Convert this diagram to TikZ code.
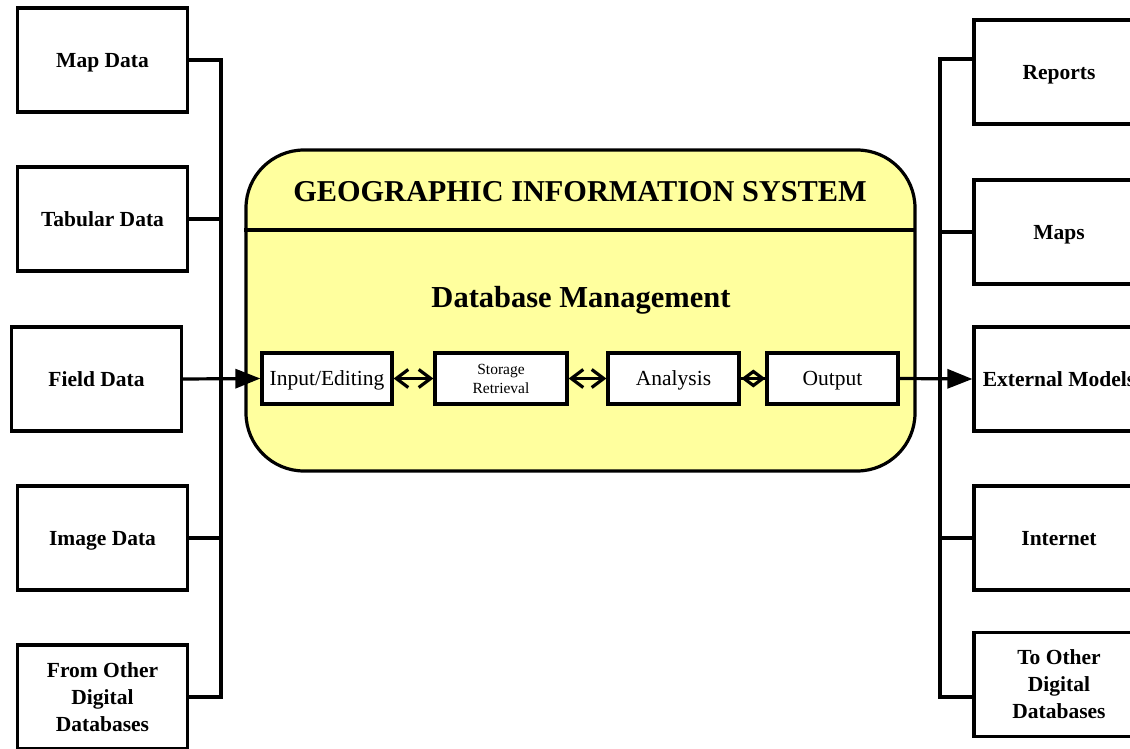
\documentclass[tikz,border=0pt]{standalone}
\usepackage{fontspec}
\setmainfont{Liberation Serif}
\usetikzlibrary{arrows.meta}
\definecolor{gisyellow}{RGB}{255,255,158}
\tikzset{
  x=1pt, y=-1pt,
  outbox/.style={draw, line width=3.2pt, minimum width=170pt, minimum height=104pt, inner sep=0pt,
    align=center, text depth=0pt, font=\fontsize{21.5}{27}\selectfont\bfseries},
  procbox/.style={draw, line width=3.2pt, fill=white, minimum height=51pt, inner sep=0pt,
    align=center, text depth=0pt, font=\fontsize{21.5}{25}\selectfont},
  conn/.style={line width=3.2pt},
  barb/.style={line width=3.2pt, {Straight Barb[length=12pt,width=18pt]}-{Straight Barb[length=12pt,width=18pt]}},
  diam/.style={line width=3.2pt, -{Diamond[open, length=24pt, width=18pt]}},
  tri/.style={line width=3.2pt, -{Triangle[length=25pt,width=19pt]}}
}
\begin{document}
\begin{tikzpicture}
\useasboundingbox (0,0) rectangle (1130,749);
\clip (0,0) rectangle (1130,749);
% main GIS box
\node[draw, line width=3.2pt, fill=gisyellow, rounded corners=58pt, minimum width=669pt, minimum height=321pt, inner sep=0pt] (gis) at (580.5,310.5) {};
\coordinate (divl) at (244,230);
\coordinate (divr) at (915,230);
\draw[conn] (divl) -- (divr);
\node[text depth=0pt, font=\fontsize{30.3}{34}\selectfont\bfseries] (title) at (580,191) {GEOGRAPHIC INFORMATION SYSTEM};
\node[text depth=0pt, font=\fontsize{30.5}{34}\selectfont\bfseries] (dbm) at (581,297) {Database Management};
% process boxes
\node[procbox, minimum width=130pt] (inp) at (327,378.5) {Input/Editing};
\node[procbox, minimum width=132pt, font=\fontsize{15.5}{19}\selectfont] (sto) at (501,378.5) {Storage\\Retrieval};
\node[procbox, minimum width=131pt] (ana) at (673.5,378.5) {Analysis};
\node[procbox, minimum width=131pt] (outp) at (832.5,378.5) {Output};
\draw[barb] (inp.east) -- (sto.west);
\draw[barb] (sto.east) -- (ana.west);
\draw[conn] (ana.east) -- (outp.west);
\draw[diam] (ana.east) -- (outp.west);
% left boxes
\node[outbox] (map) at (102.5,60) {Map Data};
\node[outbox] (tab) at (102.5,219) {Tabular Data};
\node[outbox] (field) at (96.5,379) {Field Data};
\node[outbox] (img) at (102.5,538) {Image Data};
\node[outbox] (from) at (102.5,697) {From Other\\Digital\\Databases};
\coordinate (lb) at (221,0);
\draw[conn] (map.east) -- (map.east -| lb) |- (from.east);
\draw[conn] (tab.east) -- (tab.east -| lb);
\draw[conn] (img.east) -- (img.east -| lb);
\draw[tri] (field.east) -- (inp.west);
% right boxes
\node[outbox] (rep) at (1059,72) {Reports};
\node[outbox] (maps) at (1059,232) {Maps};
\node[outbox] (ext) at (1059,379) {External Models};
\node[outbox] (net) at (1059,538) {Internet};
\node[outbox] (too) at (1059,684.5) {To Other\\Digital\\Databases};
\coordinate (rb) at (940,0);
\draw[conn] ([yshift=13pt]rep.west) -- ([yshift=13pt]rep.west -| rb) |- ([yshift=-12.5pt]too.west);
\draw[conn] (maps.west) -- (maps.west -| rb);
\draw[conn] (net.west) -- (net.west -| rb);
\draw[tri] (outp.east) -- (ext.west);
\end{tikzpicture}
\end{document}
